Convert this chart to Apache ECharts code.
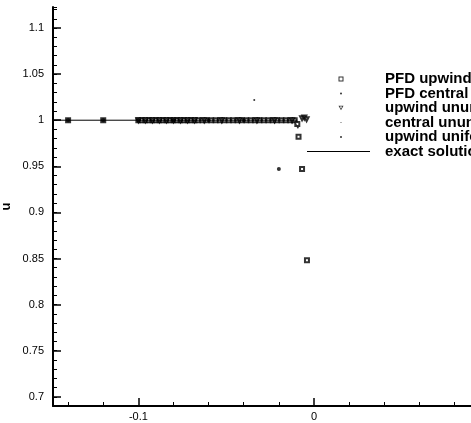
<!DOCTYPE html>
<html>
<head>
<meta charset="utf-8">
<script src="https://cdn.jsdelivr.net/npm/echarts@6/dist/echarts.min.js"></script>
<style>html,body{margin:0;padding:0;background:#fff;}#c{width:471px;height:423px;}</style>
</head>
<body>
<div id="c"></div>
<script>
// ---- data ----
const xMajorTicks = [-0.1, 0];
const xMinorTicks = [-0.14, -0.12, -0.08, -0.06, -0.04, -0.02, 0.02, 0.04, 0.06, 0.08];
const yMajorTicks = [0.7, 0.75, 0.8, 0.85, 0.9, 0.95, 1, 1.05, 1.1];

const seriesNames = ['PFD upwind', 'PFD central', 'upwind ununiform', 'central ununiform', 'upwind uniform', 'exact solution'];

const pfdUpwindX = [-0.14, -0.12, -0.100, -0.098, -0.096, -0.094, -0.092, -0.090, -0.088, -0.086, -0.084, -0.082,
  -0.080, -0.078, -0.076, -0.074, -0.072, -0.070, -0.068, -0.066, -0.0635, -0.061, -0.0585, -0.056, -0.0535,
  -0.051, -0.0485, -0.046, -0.0435, -0.041, -0.0385, -0.036, -0.0335, -0.031, -0.0285, -0.026, -0.0235, -0.021,
  -0.0185, -0.016, -0.0135, -0.011, -0.0095, -0.0088, -0.0068, -0.0040];
const pfdUpwindU = [1, 1, 1, 1, 1, 1, 1, 1, 1, 1, 1, 1,
  1, 1, 1, 1, 1, 1, 1, 1, 1, 1, 1, 1, 1,
  1, 1, 1, 1, 1, 1, 1, 1, 1, 1, 1, 1, 1,
  1, 1, 1, 1, 0.996, 0.982, 0.947, 0.848];

const pfdCentralX = [-0.14, -0.12, -0.099, -0.097, -0.095, -0.093, -0.091, -0.089, -0.087, -0.085, -0.083, -0.081,
  -0.079, -0.077, -0.075, -0.073, -0.071, -0.069, -0.067, -0.0340, -0.0092];
const pfdCentralU = [1, 1, 1, 1, 1, 1, 1, 1, 1, 1, 1, 1,
  1, 1, 1, 1, 1, 1, 1, 1.022, 0.992];

const upwindNonUniX = [-0.100, -0.096, -0.092, -0.088, -0.084, -0.080, -0.076, -0.072, -0.068, -0.0625, -0.0525,
  -0.0425, -0.0325, -0.0225, -0.0125, -0.0068, -0.0055, -0.0042];
const upwindNonUniU = [1, 1, 1, 1, 1, 1, 1, 1, 1, 1, 1,
  1, 1, 1, 1, 1.002, 1.003, 1.001];

const centralNonUniX = [-0.099, -0.091, -0.083, -0.075, -0.067, -0.050, -0.030, -0.010];
const centralNonUniU = [1, 1, 1, 1, 1, 1, 1, 0.995];

const upwindUniX = [-0.14, -0.12, -0.10, -0.08, -0.06, -0.04, -0.02];
const upwindUniU = [1, 1, 1, 1, 1, 1, 0.947];

const exactX = [-0.15, -0.0095];
const exactU = [1, 1];

// ---- build ----
const zip = (xs, ys) => xs.map((x, i) => [x, ys[i]]);
const black = '#000';
const FONT = 'Liberation Sans';
const LEG_FONT = 15;

const legendRowsY = [78.5, 93, 107.5, 122, 136.5, 151];
const legendIcons = [
  'path://M0,0H10V10H0Z M2,2V8H8V2Z',
  'circle',
  'path://M0,0H10L5,9Z M2.6,1.5L5,5.8L7.4,1.5Z',
  'circle',
  'circle'
];
const legendIconSize = [5, 2, 5, 1, 2];
const legendSymX = 341;
const legendTextX = 385;
const exactLineLeft = 307;
const exactLineWidth = 63;

function scatterLegend(i) {
  const s = legendIconSize[i];
  const left = legendSymX - s / 2;
  return {
    show: true, data: [{ name: seriesNames[i], icon: legendIcons[i] }], orient: 'vertical', padding: 0,
    left: left, top: legendRowsY[i] - 7, itemWidth: s, itemHeight: s, selectedMode: false,
    itemStyle: { color: black, borderWidth: 0 },
    textStyle: { color: black, fontFamily: FONT, fontWeight: 'bold', fontSize: LEG_FONT, lineHeight: 14,
      padding: [0, 0, 0, legendTextX - left - s - 5] }
  };
}

const option = {
  animation: false,
  backgroundColor: '#fff',
  grid: { left: 53, right: 0, top: 7, bottom: 17, containLabel: false, outerBoundsMode: 'none' },
  legend: [0, 1, 2, 3, 4].map(scatterLegend).concat([{
    show: true, data: [{ name: seriesNames[5], icon: 'rect' }], padding: 0, selectedMode: false,
    left: exactLineLeft, top: legendRowsY[5] - 7, itemWidth: exactLineWidth, itemHeight: 1,
    itemStyle: { color: black, borderWidth: 0 },
    lineStyle: { color: black, width: 1.2 },
    textStyle: { color: black, fontFamily: FONT, fontWeight: 'bold', fontSize: LEG_FONT, lineHeight: 14,
      padding: [0, 0, 0, legendTextX - exactLineLeft - exactLineWidth - 5] }
  }]),
  xAxis: [{
    type: 'value', min: -0.1486, max: 0.0894,
    axisLine: { show: true, onZero: false, lineStyle: { color: black, width: 2 } },
    axisTick: { show: true, inside: true, length: 8, customValues: xMajorTicks, lineStyle: { color: black, width: 1.5 } },
    axisLabel: { show: true, customValues: xMajorTicks, margin: 5, color: black, fontFamily: FONT, fontSize: 11,
      formatter: v => String(v) },
    splitLine: { show: false }
  }, {
    type: 'value', min: -0.1486, max: 0.0894, position: 'bottom',
    axisLine: { show: false, onZero: false },
    axisTick: { show: true, inside: true, length: 4, customValues: xMinorTicks, lineStyle: { color: black, width: 1 } },
    axisLabel: { show: false },
    splitLine: { show: false }
  }],
  yAxis: [{
    type: 'value', min: 0.69, max: 1.1228,
    name: 'u', nameLocation: 'middle', nameGap: 40, nameMoveOverlap: false,
    nameTextStyle: { color: black, fontFamily: FONT, fontWeight: 'bold', fontSize: 13 },
    axisLine: { show: true, onZero: false, lineStyle: { color: black, width: 2 } },
    axisTick: { show: true, inside: true, length: 8, customValues: yMajorTicks, lineStyle: { color: black, width: 1.5 } },
    axisLabel: { show: true, customValues: yMajorTicks, margin: 9, color: black, fontFamily: FONT, fontSize: 11,
      formatter: v => String(v) },
    splitLine: { show: false }
  }, {
    type: 'value', min: 0.69, max: 1.1228, interval: 0.01, position: 'left',
    axisLine: { show: false, onZero: false },
    axisTick: { show: true, inside: true, length: 4, lineStyle: { color: black, width: 1 } },
    axisLabel: { show: false },
    splitLine: { show: false }
  }],
  series: [
    { name: seriesNames[0], type: 'scatter', data: zip(pfdUpwindX, pfdUpwindU), symbol: 'emptyRect', symbolSize: 4,
      itemStyle: { color: black, borderColor: black, borderWidth: 1 } },
    { name: seriesNames[1], type: 'scatter', data: zip(pfdCentralX, pfdCentralU), symbol: 'circle', symbolSize: 2,
      itemStyle: { color: black } },
    { name: seriesNames[2], type: 'scatter', data: zip(upwindNonUniX, upwindNonUniU), symbol: 'emptyTriangle', symbolRotate: 180, symbolSize: 4,
      itemStyle: { color: black, borderColor: black, borderWidth: 1 } },
    { name: seriesNames[3], type: 'scatter', data: zip(centralNonUniX, centralNonUniU), symbol: 'circle', symbolSize: 1,
      itemStyle: { color: black } },
    { name: seriesNames[4], type: 'scatter', data: zip(upwindUniX, upwindUniU), symbol: 'circle', symbolSize: 4,
      itemStyle: { color: black } },
    { name: seriesNames[5], type: 'line', data: zip(exactX, exactU), symbol: 'none', showSymbol: false,
      lineStyle: { color: black, width: 1 }, itemStyle: { color: black } }
  ]
};

const chart = echarts.init(document.getElementById('c'), null, { renderer: 'canvas' });
chart.setOption(option);
</script>
</body>
</html>
